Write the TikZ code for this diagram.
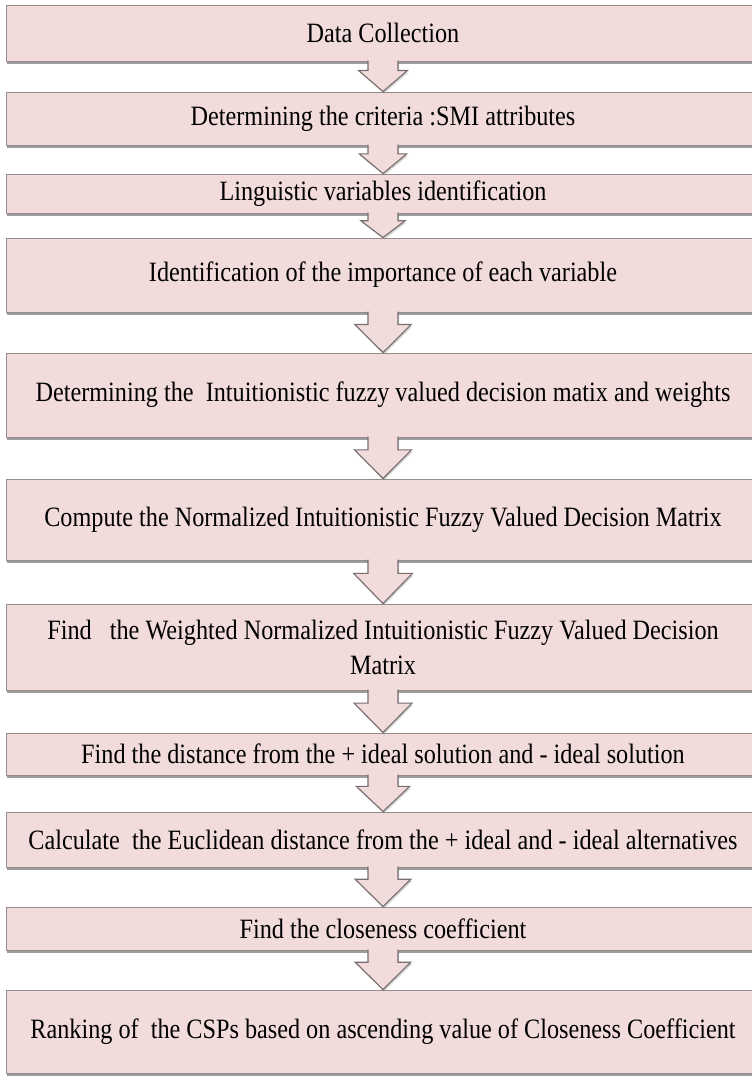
\documentclass[tikz,border=0pt]{standalone}
\usepackage{fontspec}
\setmainfont{Liberation Serif}[FakeStretch=0.865]
\usepackage{tikz}
\usetikzlibrary{shadows, calc}
\definecolor{boxpink}{RGB}{242,220,219}
\definecolor{boxline}{RGB}{150,140,140}
\definecolor{arrowline}{RGB}{120,110,110}
\tikzset{
  stepbox/.style={draw=boxline, fill=boxpink, line width=1pt, minimum width=754pt,
    inner sep=0pt, align=center, font=\fontsize{28}{35}\selectfont,
    drop shadow={shadow xshift=1pt, shadow yshift=-3pt, fill=black!70, opacity=0.55}},
  flowfill/.style={fill=boxpink, drop shadow={shadow xshift=1pt, shadow yshift=-2pt, fill=black!50, opacity=0.35}},
  flowline/.style={draw=arrowline, line width=1.1pt, line join=miter}
}

\begin{document}
\begin{tikzpicture}[x=1pt, y=-1pt]
  \useasboundingbox (0,0) rectangle (752,1076);
  \fill[white] (0,0) rectangle (752,1076);
  \clip (0,0) rectangle (752,1076);
  % steps of the method
  \node[stepbox, minimum height=56pt] (b1) at (383,33) {Data Collection};
  \node[stepbox, minimum height=53pt] (b2) at (383,118.5) {Determining the criteria :SMI attributes};
  \node[stepbox, minimum height=39pt] (b3) at (383,193.5) {Linguistic variables identification};
  \node[stepbox, minimum height=74pt] (b4) at (383,275) {Identification of the importance of each variable};
  \node[stepbox, minimum height=84pt] (b5) at (383,395) {Determining the\ \ Intuitionistic fuzzy valued decision matix and weights};
  \node[stepbox, minimum height=81pt] (b6) at (383,519.5) {Compute the Normalized Intuitionistic Fuzzy Valued Decision Matrix};
  \node[stepbox, minimum height=86pt] (b7) at (383,647) {Find\ \ \ the Weighted Normalized Intuitionistic Fuzzy Valued Decision\\Matrix};
  \node[stepbox, minimum height=42pt] (b8) at (383,754) {Find the distance from the + ideal solution and - ideal solution};
  \node[stepbox, minimum height=55pt] (b9) at (383,839.5) {Calculate\ \ the Euclidean distance from the + ideal and - ideal alternatives};
  \node[stepbox, minimum height=43pt] (b10) at (383,928.5) {Find the closeness coefficient};
  \node[stepbox, minimum height=83pt] (b11) at (383,1031.5) {Ranking of\ \ the CSPs based on ascending value of Closeness Coefficient};
  % block arrows between the steps
  \foreach \src/\dst in {b1/b2, b2/b3, b3/b4, b4/b5, b5/b6, b6/b7, b7/b8, b8/b9, b9/b10, b10/b11} {
    \fill[flowfill] let \p1=(\src.south), \p2=(\dst.north), \n1={\y1-\y2}, \n2={0.3*\n1}, \n3={13pt+0.38*\n1} in
      (\x1-15pt,\y1+2pt) -- (\x1-15pt,\y1-\n2) -- (\x1-\n3,\y1-\n2) -- (\x2,\y2)
      -- (\x1+\n3,\y1-\n2) -- (\x1+15pt,\y1-\n2) -- (\x1+15pt,\y1+2pt) -- cycle;
    \draw[flowline] let \p1=(\src.south), \p2=(\dst.north), \n1={\y1-\y2}, \n2={0.3*\n1}, \n3={13pt+0.38*\n1} in
      (\x1-15pt,\y1+1pt) -- (\x1-15pt,\y1-\n2) -- (\x1-\n3,\y1-\n2) -- (\x2,\y2)
      -- (\x1+\n3,\y1-\n2) -- (\x1+15pt,\y1-\n2) -- (\x1+15pt,\y1+1pt);
  }
\end{tikzpicture}
\end{document}
